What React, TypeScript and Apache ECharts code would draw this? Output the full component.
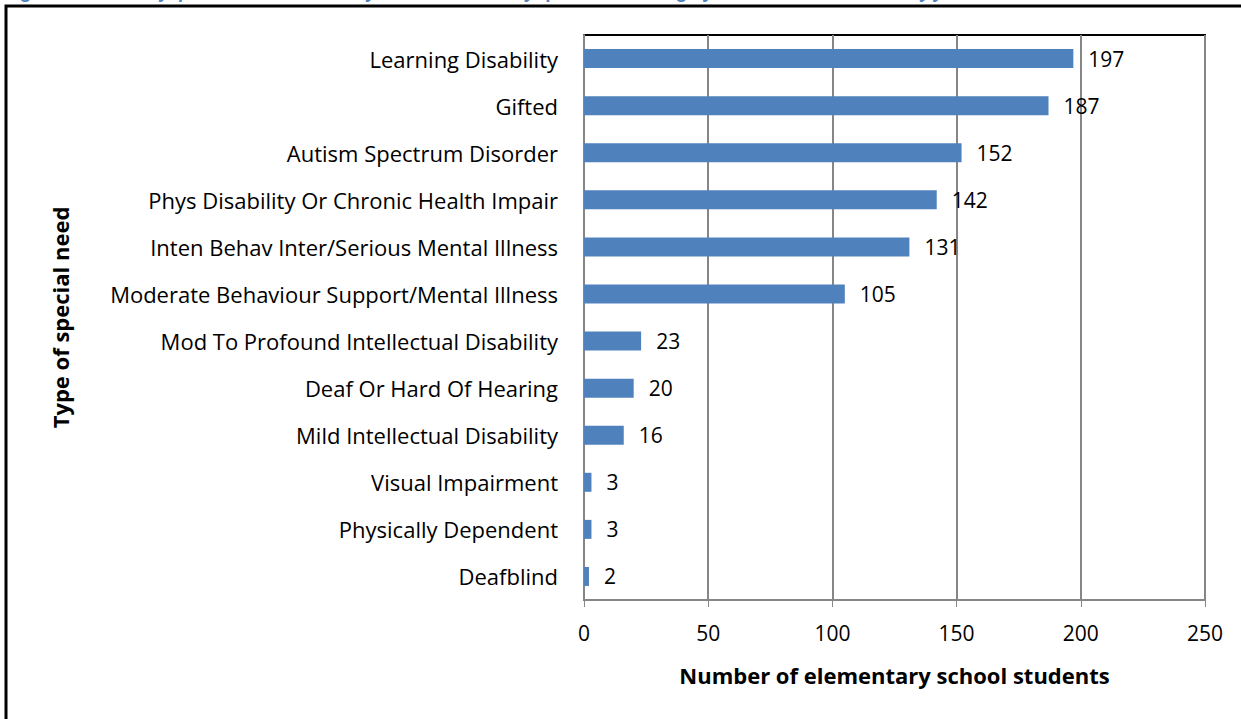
import React, { useEffect, useRef } from "react";
import * as echarts from "echarts";

const categories = [
  "Learning Disability",
  "Gifted",
  "Autism Spectrum Disorder",
  "Phys Disability Or Chronic Health Impair",
  "Inten Behav Inter/Serious Mental Illness",
  "Moderate Behaviour Support/Mental Illness",
  "Mod To Profound Intellectual Disability",
  "Deaf Or Hard Of Hearing",
  "Mild Intellectual Disability",
  "Visual Impairment",
  "Physically Dependent",
  "Deafblind",
];
const values = [197, 187, 152, 142, 131, 105, 23, 20, 16, 3, 3, 2];
const xTicks = [0, 50, 100, 150, 200, 250];

const FONT = "'Open Sans', 'Noto Sans', sans-serif";

export default function App() {
  const ref = useRef<HTMLDivElement>(null);
  useEffect(() => {
    if (!ref.current) return;
    const chart = echarts.init(ref.current, null, { renderer: "svg" });
    chart.setOption({
      animation: false,
      backgroundColor: "#ffffff",
      graphic: [
        {
          type: "rect",
          shape: { x: 6, y: 6, width: 1260, height: 760 },
          style: { fill: "none", stroke: "#000000", lineWidth: 3 },
          z: 10,
        },
        {
          type: "text",
          left: 8,
          top: -17,
          style: {
            text: "Figure 1: Number of special needs elementary school students, by special need category, Metro School Board, early years",
            fill: "#4F81BD",
            font: "italic bold 17px " + FONT,
          },
        },
      ],
      grid: {
        left: 584,
        right: 36,
        top: 35,
        bottom: 119,
        show: true,
        borderColor: "#000000",
        borderWidth: 2,
        containLabel: false,
      },
      xAxis: {
        type: "value",
        min: 0,
        max: 250,
        interval: 50,
        name: "Number of elementary school students",
        nameLocation: "middle",
        nameGap: 64,
        nameTextStyle: { fontFamily: FONT, fontWeight: "bold", fontSize: 22, color: "#000" },
        axisLine: { show: true, lineStyle: { color: "#868686", width: 2 } },
        axisTick: { show: true, length: 7, lineStyle: { color: "#868686", width: 1 } },
        axisLabel: {
          fontFamily: FONT,
          fontSize: 21,
          color: "#000",
          margin: 22,
          formatter: (v: number) => (xTicks.includes(v) ? String(v) : ""),
        },
        splitLine: { show: true, lineStyle: { color: "#868686", width: 2 } },
      },
      yAxis: {
        type: "category",
        data: categories,
        inverse: true,
        name: "Type of special need",
        nameLocation: "middle",
        nameGap: 513,
        nameRotate: 90,
        nameTextStyle: { fontFamily: FONT, fontWeight: "bold", fontSize: 22, color: "#000" },
        axisLine: { show: true, lineStyle: { color: "#868686", width: 2 } },
        axisTick: { show: false },
        axisLabel: { fontFamily: FONT, fontSize: 22, color: "#000", margin: 26 },
      },
      series: [
        {
          type: "bar",
          data: values,
          barWidth: 19,
          itemStyle: { color: "#4F81BD" },
          label: {
            show: true,
            position: "right",
            distance: 15,
            fontFamily: FONT,
            fontSize: 21,
            color: "#000",
          },
        },
      ],
    });
    return () => chart.dispose();
  }, []);
  return (
    <div
      ref={ref}
      style={{ position: "fixed", left: 0, top: 0, width: 1241, height: 719 }}
    />
  );
}
